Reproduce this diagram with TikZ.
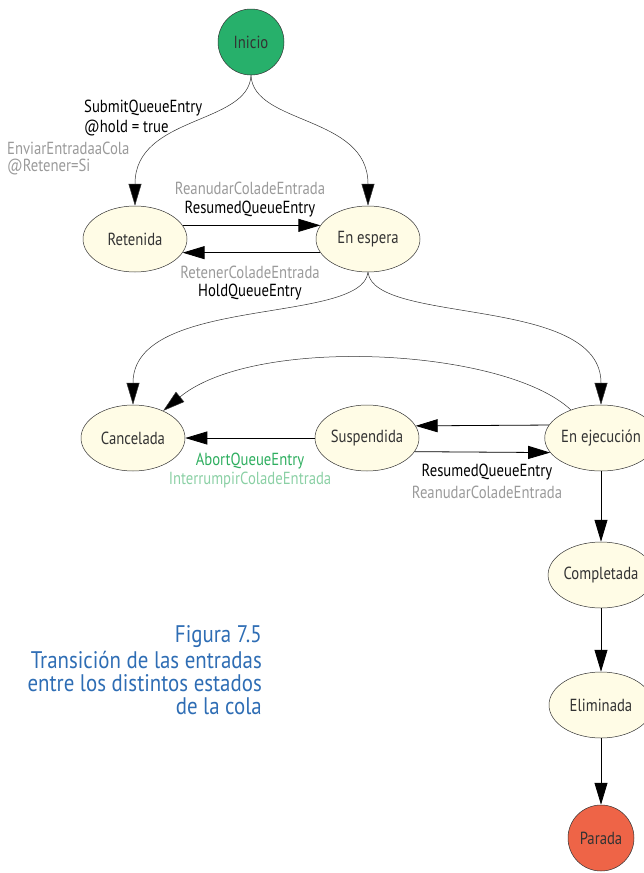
\documentclass[tikz,border=0pt]{standalone}
\usepackage{fontspec}
\setmainfont{PT Sans}
\newfontfamily\condfont[FakeStretch=0.84]{PT Sans}
\newfontfamily\capfont[FakeStretch=0.87]{PT Sans}
\usetikzlibrary{arrows.meta,shapes.geometric}
\definecolor{cream}{HTML}{FFFCE6}
\definecolor{startgreen}{HTML}{27B06B}
\definecolor{stopred}{HTML}{EE6447}
\definecolor{labgray}{HTML}{9A9A9A}
\definecolor{labgreen}{HTML}{2EAE5F}
\definecolor{lablight}{HTML}{8BD0A5}
\definecolor{capblue}{HTML}{2E6DB4}
\definecolor{ink}{HTML}{333333}
\tikzset{
  state/.style={ellipse, draw=ink, line width=0.5pt, fill=cream, minimum width=104pt,
    minimum height=66pt, inner sep=0pt, text=ink, font=\condfont\fontsize{17.5}{20}\selectfont},
  terminal/.style={circle, draw=ink, line width=0.5pt, minimum size=66pt, inner sep=0pt,
    text=ink, font=\condfont\fontsize{17.5}{20}\selectfont},
  trans/.style={draw=black, line width=0.8pt, -{Triangle[length=22pt,width=13pt]}},
  curvetrans/.style={draw=black!80, line width=0.5pt, -{Triangle[length=22pt,width=13pt,fill=black]}},
  lab/.style={inner sep=0pt, font=\condfont\fontsize{17.5}{20}\selectfont},
  caption/.style={inner sep=0pt, anchor=east, text=capblue, font=\capfont\fontsize{24}{26}\selectfont}
}
\begin{document}
\begin{tikzpicture}[x=1pt,y=1pt]
\useasboundingbox (0,0) rectangle (643,-873);

% states
\node[terminal, fill=startgreen] (ini) at (251,-42) {Inicio};
\node[state] (ret) at (135,-239) {Retenida};
\node[state] (esp) at (368,-239) {En espera};
\node[state] (can) at (133,-438) {Cancelada};
\node[state] (sus) at (367,-438) {Suspendida};
\node[state] (eje) at (601,-438) {En ejecución};
\node[state] (com) at (601,-575) {Completada};
\node[state] (eli) at (601,-705) {Eliminada};
\node[terminal, fill=stopred, minimum size=66pt] (par) at (601,-838) {Parada};

% curved transitions
\draw[curvetrans] (ini.south) .. controls (249,-125) and (135,-115) .. (ret.north);
\draw[curvetrans] (ini.south) .. controls (253,-125) and (368,-115) .. (esp.north);
\draw[curvetrans] (esp.south) .. controls (362,-325) and (133,-295) .. (can.north);
\draw[curvetrans] (esp.south) .. controls (374,-325) and (601,-295) .. (eje.north);
\draw[curvetrans] (eje.137) .. controls (505,-348) and (255,-335) .. (can.42);

% straight transitions
\draw[trans] (ret.16) -- (esp.164);
\draw[trans] (esp.196) -- (ret.-16);
\draw[trans] (eje.166) -- (sus.14);
\draw[trans] (sus.-16) -- (eje.196);
\draw[trans] (sus.west) -- (can.east);
\draw[trans] (eje.south) -- (com.north);
\draw[trans] (com.south) -- (eli.north);
\draw[trans] (eli.south) -- (par.north);

% transition labels
\node[lab, anchor=west, text=black] (l1a) at (84,-108) {SubmitQueueEntry};
\node[lab, anchor=west, text=black] (l1b) at (84,-128) {@hold = true};
\node[lab, anchor=west, text=labgray] (l1c) at (7,-148) {EnviarEntradaaCola};
\node[lab, anchor=west, text=labgray] (l1d) at (7,-167) {@Retener=Si};

\node[lab, text=labgray] (l2a) at (250,-188) {ReanudarColadeEntrada};
\node[lab, text=black] (l2b) at (250,-209) {ResumedQueueEntry};
\node[lab, text=labgray] (l3a) at (250,-272) {RetenerColadeEntrada};
\node[lab, text=black] (l3b) at (250,-292) {HoldQueueEntry};

\node[lab, text=labgreen] (l4a) at (250,-461) {AbortQueueEntry};
\node[lab, text=lablight] (l4b) at (250,-480) {InterrumpirColadeEntrada};
\node[lab, text=black] (l5a) at (487,-472) {ResumedQueueEntry};
\node[lab, text=labgray] (l5b) at (487,-492) {ReanudarColadeEntrada};

% figure caption
\node[caption] (c1) at (262,-637) {Figura 7.5};
\node[caption] (c2) at (262,-660) {Transición de las entradas};
\node[caption] (c3) at (262,-683) {entre los distintos estados};
\node[caption] (c4) at (262,-706) {de la cola};
\end{tikzpicture}
\end{document}
